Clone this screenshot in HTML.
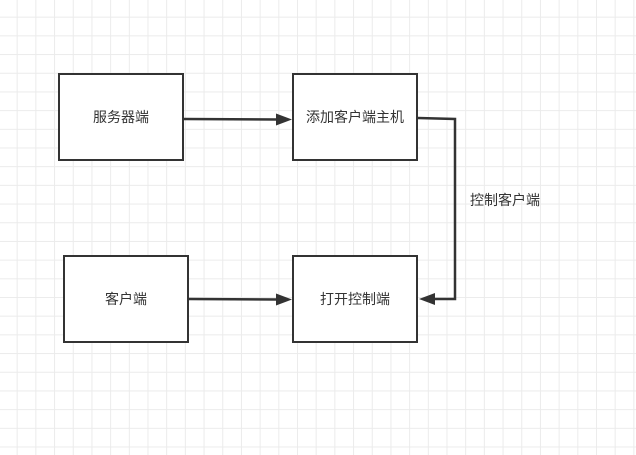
<!DOCTYPE html>
<html><head><meta charset="utf-8"><style>
html,body{margin:0;padding:0;background:#fff;}
body{width:636px;height:455px;overflow:hidden;position:relative;
background-image:linear-gradient(#ebebeb 1px,transparent 1px),linear-gradient(90deg,#ebebeb 1px,transparent 1px);
background-size:18.7px 18.7px;background-position:-2px -2px;
font-family:"Liberation Sans","Noto Sans CJK SC",sans-serif;}
.b{position:absolute;box-sizing:border-box;border:2.5px solid #333;background:#fff;width:126px;height:88px;
display:flex;align-items:center;justify-content:center;text-align:center;font-size:14px;color:#333;line-height:20px;padding:0 8px;}
</style></head><body>
<div class="b" style="left:58px;top:73px">服务器端</div>
<div class="b" style="left:292px;top:73px;padding:0 10px">添加客户端主机</div>
<div class="b" style="left:63px;top:255px">客户端</div>
<div class="b" style="left:292px;top:255px">打开控制端</div>
<svg width="636" height="455" style="position:absolute;left:0;top:0">
<g stroke="#333" stroke-width="2.5" fill="none">
<path d="M184 119 L278 119.5"/>
<path d="M418 118 L455 119 L455 299 L434 299"/>
<path d="M189 299 L278 299.5"/>
</g>
<g fill="#333">
<polygon points="292,119.5 276,113.5 276,125.5"/>
<polygon points="292,299.5 276,293.5 276,305.5"/>
<polygon points="419,299 435,293 435,305"/>
</g>
<text x="470" y="205" font-size="14" fill="#333" font-family="Liberation Sans,Noto Sans CJK SC,sans-serif">控制客户端</text>
</svg>
</body></html>
